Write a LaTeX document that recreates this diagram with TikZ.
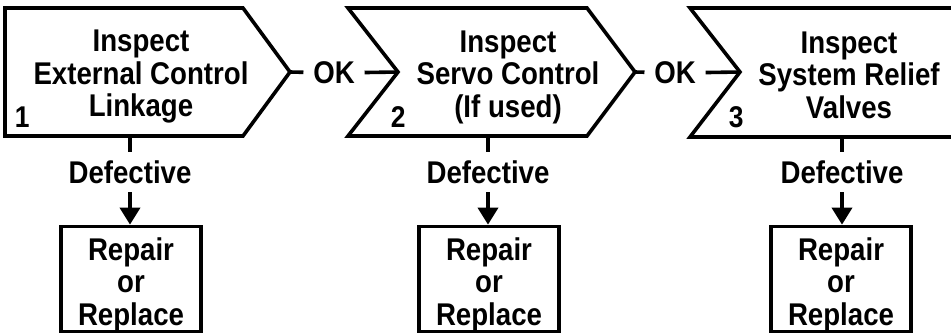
\documentclass[tikz,border=0pt]{standalone}
\usepackage{fontspec}
\setmainfont{Liberation Sans}[FakeStretch=0.88]
\usetikzlibrary{arrows.meta}
\begin{document}
\begin{tikzpicture}[x=1pt,y=-1pt,line width=3.6pt,
    lbl/.style={font=\bfseries\fontsize{31.4}{32.5}\selectfont,align=center},
    num/.style={font=\bfseries\fontsize{30}{30}\selectfont,anchor=base west,inner sep=0pt},
    okl/.style={lbl,inner xsep=8pt},
    defl/.style={lbl,text height=23pt,text depth=0pt,inner ysep=7pt},
    fixbox/.style={lbl,draw,minimum width=140pt,minimum height=104pt,inner sep=0pt}]
  \useasboundingbox (0,0) rectangle (951,333);
  \draw (5,8) -- (243,8) -- (290,72) coordinate (t1) -- (243,136) -- (5,136) -- cycle;
  \draw (348,8) -- (587,8) -- (635,72) coordinate (t2) -- (587,136) -- (348,136) -- (398,72) coordinate (n2) -- cycle;
  \draw (960,8) -- (690,8) -- (740,72) coordinate (n3) -- (690,137) -- (960,137);
  \node[lbl] (s1) at (141,77) {Inspect\\External Control\\Linkage};
  \node[lbl] (s2) at (508,77) {Inspect\\Servo Control\\(If used)};
  \node[lbl] (s3) at (849,75) {Inspect\\System Relief\\Valves};
  \node[num] (k1) at (13,127) {1};
  \node[num] (k2) at (389,127) {2};
  \node[num] (k3) at (727,127) {3};
  \node[okl] (ok1) at (334,73) {OK};
  \node[okl] (ok2) at (675,73) {OK};
  \draw (t1) -- (ok1);
  \draw (ok1) -- (n2);
  \draw (t2) -- (ok2);
  \draw (ok2) -- (n3);
  \coordinate (b1) at (130,136);
  \coordinate (b2) at (488,136);
  \coordinate (b3) at (842,137);
  \node[defl] (d1) at (130,172) {Defective};
  \node[defl] (d2) at (488,172) {Defective};
  \node[defl] (d3) at (842,172) {Defective};
  \node[fixbox] (r1) at (131,279) {\rule{0pt}{33.6pt}Repair\\or\\Replace};
  \node[fixbox] (r2) at (489,279) {\rule{0pt}{33.6pt}Repair\\or\\Replace};
  \node[fixbox] (r3) at (841,279) {\rule{0pt}{33.6pt}Repair\\or\\Replace};
  \draw (b1) -- (d1);
  \draw (b2) -- (d2);
  \draw (b3) -- (d3);
  \draw[-{Triangle[length=17pt,width=20pt]}] (d1) -- (d1 |- r1.north);
  \draw[-{Triangle[length=17pt,width=20pt]}] (d2) -- (d2 |- r2.north);
  \draw[-{Triangle[length=17pt,width=20pt]}] (d3) -- (d3 |- r3.north);
\end{tikzpicture}
\end{document}
